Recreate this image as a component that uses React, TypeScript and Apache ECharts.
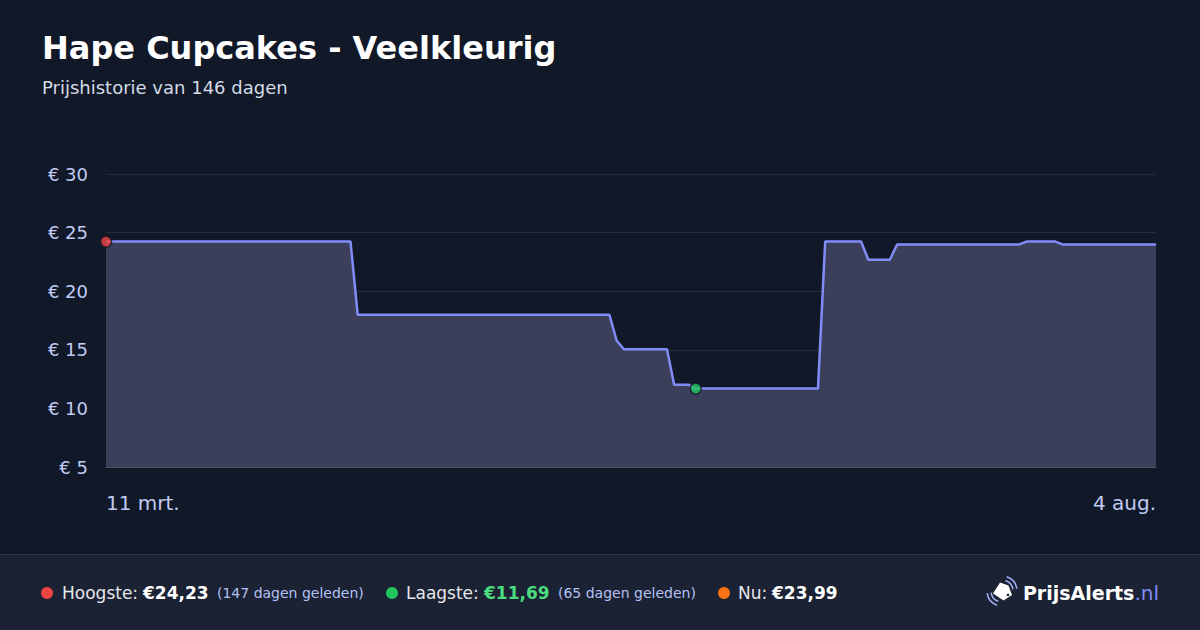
import React, { useEffect, useRef } from "react";
import * as echarts from "echarts";

const TITLE = "Hape Cupcakes - Veelkleurig";
const SUBTITLE = "Prijshistorie van 146 dagen";
const X_LABELS = ["11 mrt.", "4 aug."];
const Y_TICKS = [5, 10, 15, 20, 25, 30];

// 147 daily prices (day 0 = 11 mrt., day 146 = 4 aug.)
const PRICES: number[] = [
  24.23, 24.23, 24.23, 24.23, 24.23, 24.23, 24.23, 24.23, 24.23, 24.23,
  24.23, 24.23, 24.23, 24.23, 24.23, 24.23, 24.23, 24.23, 24.23, 24.23,
  24.23, 24.23, 24.23, 24.23, 24.23, 24.23, 24.23, 24.23, 24.23, 24.23,
  24.23, 24.23, 24.23, 24.23, 24.23,
  17.99, 17.99, 17.99, 17.99, 17.99, 17.99, 17.99, 17.99, 17.99, 17.99,
  17.99, 17.99, 17.99, 17.99, 17.99, 17.99, 17.99, 17.99, 17.99, 17.99,
  17.99, 17.99, 17.99, 17.99, 17.99, 17.99, 17.99, 17.99, 17.99, 17.99,
  17.99, 17.99, 17.99, 17.99, 17.99, 17.99,
  15.79,
  15.04, 15.04, 15.04, 15.04, 15.04, 15.04, 15.04,
  12.02, 12.02, 12.02,
  11.69, 11.69, 11.69, 11.69, 11.69, 11.69, 11.69, 11.69, 11.69, 11.69,
  11.69, 11.69, 11.69, 11.69, 11.69, 11.69, 11.69, 11.69,
  24.23, 24.23, 24.23, 24.23, 24.23, 24.23,
  22.69, 22.69, 22.69, 22.69,
  23.99, 23.99, 23.99, 23.99, 23.99, 23.99, 23.99, 23.99, 23.99, 23.99,
  23.99, 23.99, 23.99, 23.99, 23.99, 23.99, 23.99, 23.99,
  24.23, 24.23, 24.23, 24.23, 24.23,
  23.99, 23.99, 23.99, 23.99, 23.99, 23.99, 23.99, 23.99, 23.99, 23.99,
  23.99, 23.99, 23.99, 23.99,
];

const DAYS: number[] = PRICES.map((_, i) => i);

const HIGH = { day: 0, price: 24.23, ago: 147 };
const LOW = { day: 82, price: 11.69, ago: 65 };
const NOW = { price: 23.99 };

const fmt = (v: number) => "€" + v.toFixed(2).replace(".", ",");

const FONT = "DejaVu Sans";

export default function App() {
  const ref = useRef<HTMLDivElement>(null);

  useEffect(() => {
    document.body.style.margin = "0";
    const chart = echarts.init(ref.current!, null, { renderer: "svg" });

    const t = (x: number, y: number, text: string, size: number, fill: string, weight: any = "normal", align: any = "left") => ({
      type: "text",
      x,
      y,
      z: 10,
      style: {
        text,
        fill,
        fontSize: size,
        fontWeight: weight,
        fontFamily: FONT,
        align,
        verticalAlign: "middle",
      },
    });
    const dot = (cx: number, cy: number, color: string) => ({
      type: "circle",
      z: 10,
      shape: { cx, cy, r: 6 },
      style: { fill: color },
    });

    const fy = 593;

    chart.setOption({
      animation: false,
      backgroundColor: "#111827",
      grid: { left: 106, right: 44, top: 174, bottom: 163, containLabel: false },
      xAxis: {
        type: "category",
        data: DAYS,
        boundaryGap: false,
        axisLine: { show: true, lineStyle: { color: "#4a5163", width: 1 } },
        axisTick: { show: false },
        splitLine: { show: false },
        axisLabel: {
          interval: (i: number) => i === 0 || i === DAYS.length - 1,
          formatter: (_v: string, i: number) => (i === 0 ? X_LABELS[0] : X_LABELS[1]),
          color: "#c0cbf5",
          fontSize: 20,
          fontFamily: FONT,
          margin: 26,
          alignMinLabel: "left",
          alignMaxLabel: "right",
        },
      },
      yAxis: {
        type: "value",
        min: Y_TICKS[0],
        max: Y_TICKS[Y_TICKS.length - 1],
        interval: 5,
        axisLine: { show: false },
        axisTick: { show: false },
        splitLine: { show: true, lineStyle: { color: "#252d3d", width: 1 } },
        axisLabel: {
          formatter: (v: number) => "€ " + v,
          color: "#c0cbf5",
          fontSize: 18,
          fontFamily: FONT,
          margin: 18,
        },
      },
      series: [
        {
          type: "line",
          data: PRICES,
          showSymbol: false,
          smooth: false,
          lineStyle: { color: "#818cf8", width: 2.5 },
          areaStyle: { color: "#3b3f59", opacity: 1 },
          z: 2,
        },
        {
          type: "scatter",
          clip: false,
          symbolSize: 11,
          z: 5,
          data: [
            { value: [HIGH.day, HIGH.price], itemStyle: { color: "#ef4444" } },
            { value: [LOW.day, LOW.price], itemStyle: { color: "#22c55e" } },
          ],
          itemStyle: { borderColor: "#111827", borderWidth: 1.5 },
        },
      ],
      graphic: [
        t(42, 48, TITLE, 32, "#ffffff", "bold"),
        t(42, 87, SUBTITLE, 18, "#d4dbe8"),
        {
          type: "rect",
          z: 1,
          shape: { x: 0, y: 554, width: 1200, height: 76 },
          style: { fill: "#1a2233" },
        },
        {
          type: "line",
          z: 2,
          shape: { x1: 0, y1: 554.5, x2: 1200, y2: 554.5 },
          style: { stroke: "#283350", lineWidth: 1 },
        },
        dot(47, fy, "#ef4444"),
        t(62, fy, "Hoogste:", 17, "#e5e7eb"),
        t(143, fy, fmt(HIGH.price), 17, "#ffffff", "bold"),
        t(217, fy, `(${HIGH.ago} dagen geleden)`, 14, "#b4c1f4"),
        dot(392, fy, "#22c55e"),
        t(406, fy, "Laagste:", 17, "#e5e7eb"),
        t(484, fy, fmt(LOW.price), 17, "#4ade80", "bold"),
        t(558, fy, `(${LOW.ago} dagen geleden)`, 14, "#b4c1f4"),
        dot(724, fy, "#f97316"),
        t(738, fy, "Nu:", 17, "#e5e7eb"),
        t(772, fy, fmt(NOW.price), 17, "#ffffff", "bold"),
        // logo icon
        {
          type: "polygon",
          z: 10,
          shape: {
            points: [
              [1000, 582.5],
              [1008.5, 585.5],
              [1012, 595],
              [1003.5, 600.5],
              [993, 593.5],
            ],
          },
          style: { fill: "#ffffff" },
        },
        {
          type: "circle",
          z: 11,
          shape: { cx: 1008, cy: 595, r: 1.3 },
          style: { fill: "#1a2233" },
        },
        {
          type: "arc",
          z: 10,
          shape: { cx: 1002, cy: 591, r: 11, startAngle: -1.25, endAngle: -0.15 },
          style: { stroke: "#a5b4fc", lineWidth: 1.5, fill: "none" },
        },
        {
          type: "arc",
          z: 10,
          shape: { cx: 1002, cy: 591, r: 15, startAngle: -1.25, endAngle: -0.15 },
          style: { stroke: "#a5b4fc", lineWidth: 1.5, fill: "none" },
        },
        {
          type: "arc",
          z: 10,
          shape: { cx: 1002, cy: 591, r: 11, startAngle: 1.9, endAngle: 3.0 },
          style: { stroke: "#a5b4fc", lineWidth: 1.5, fill: "none" },
        },
        {
          type: "arc",
          z: 10,
          shape: { cx: 1002, cy: 591, r: 15, startAngle: 1.9, endAngle: 3.0 },
          style: { stroke: "#a5b4fc", lineWidth: 1.5, fill: "none" },
        },
        {
          type: "text",
          x: 1159,
          y: fy,
          z: 10,
          style: {
            text: "{b|PrijsAlerts}{n|.nl}",
            align: "right",
            verticalAlign: "middle",
            fontFamily: FONT,
            rich: {
              b: { fontSize: 19, fontWeight: "bold", fill: "#ffffff", fontFamily: FONT },
              n: { fontSize: 20, fontWeight: "normal", fill: "#818cf8", fontFamily: FONT },
            },
          },
        },
      ],
    });

    return () => chart.dispose();
  }, []);

  return <div ref={ref} style={{ width: 1200, height: 630 }} />;
}
